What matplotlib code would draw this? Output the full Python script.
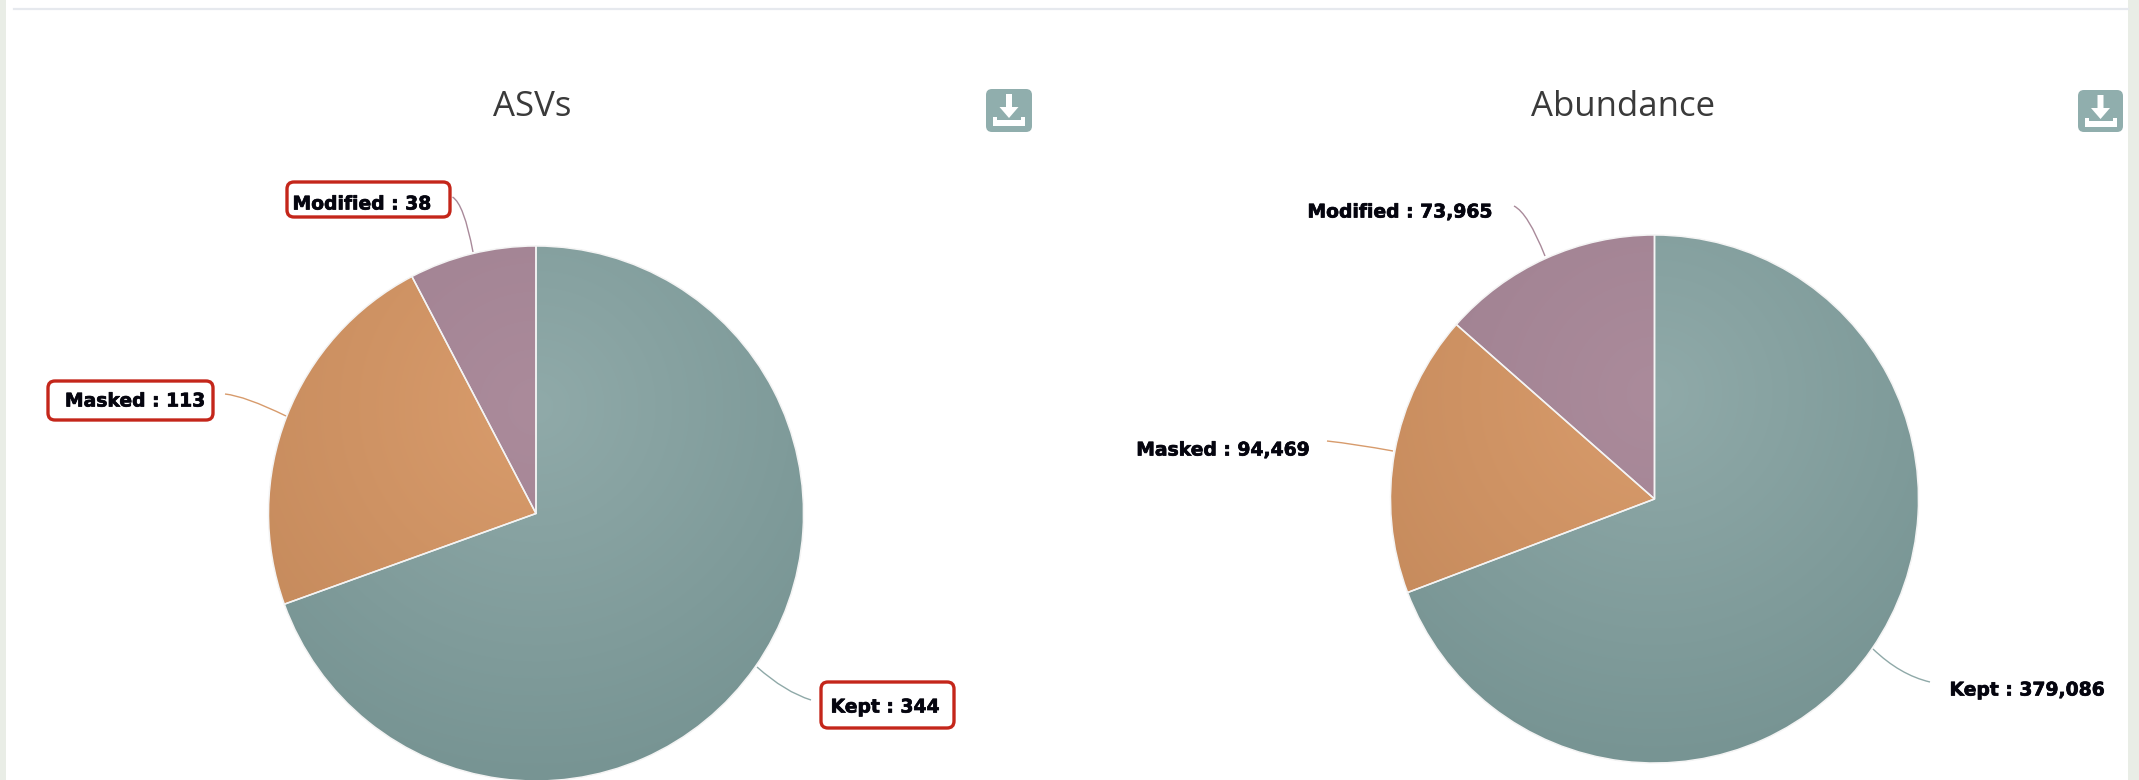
import numpy as np
import matplotlib
matplotlib.use("Agg")
import matplotlib.pyplot as plt
import matplotlib.patheffects as pe
from matplotlib.patches import FancyBboxPatch, Rectangle, Wedge, PathPatch, Polygon
from matplotlib.path import Path
from matplotlib.colors import to_rgb

W, H = 2139, 780
categories = ["Kept", "Masked", "Modified"]
asv_values = [344, 113, 38]
abundance_values = [379086, 94469, 73965]
titles = ["ASVs", "Abundance"]
light = ["#90aaa9", "#d99c6c", "#ab8b9b"]
dark = ["#779493", "#c4895b", "#9c7e8e"]
LINE = ["#8fa9a8", "#d79b6c", "#a98a9a"]
RED = "#c4261a"

fig = plt.figure(figsize=(W / 100, H / 100), dpi=100, facecolor="#e9ede6")
ax = fig.add_axes([0, 0, 1, 1])
Y = lambda y: H - y

ax.add_patch(Rectangle((5.5, 0), 2122.5, H, fc="white", ec="none", zorder=0))
ax.plot([14, 2128], [Y(8.5), Y(8.5)], color="#e6e9ee", lw=1.6, zorder=1)


def draw_pie(values, cx, cy, r):
    wedges, _ = ax.pie(values, colors=light, startangle=90, counterclock=False,
                       center=(cx, Y(cy)), radius=r, frame=True)
    n = 500
    xs = np.linspace(cx - r, cx + r, n)
    ys = np.linspace(Y(cy) + r, Y(cy) - r, n)
    xx, yy = np.meshgrid(xs, ys)
    gx, gy = cx, Y(cy) + r - 0.6 * r
    t = np.clip(np.hypot(xx - gx, yy - gy) / (1.4 * r), 0, 1)[..., None]
    for w, a, b in zip(wedges, light, dark):
        w.set_zorder(1)
        img = (1 - t) * np.array(to_rgb(a)) + t * np.array(to_rgb(b))
        im = ax.imshow(img, extent=(cx - r, cx + r, Y(cy) - r, Y(cy) + r),
                       zorder=2, aspect="auto", interpolation="bilinear")
        im.set_clip_path(w)
        ax.add_patch(Wedge(w.center, w.r, w.theta1, w.theta2, fc="none",
                           ec="#f4f4f4", lw=1.1, zorder=3))


def leader(p0, p1, p2, color):
    path = Path([(p0[0], Y(p0[1])), (p1[0], Y(p1[1])), (p2[0], Y(p2[1]))],
                [Path.MOVETO, Path.CURVE3, Path.CURVE3])
    ax.add_patch(PathPatch(path, fc="none", ec=color, lw=1.0, zorder=4))


def label(cat, val, x, y, box=None):
    t = ax.text(x, Y(y), f"{cat} : {val:,}", ha="center", va="center",
                fontsize=13.5, fontweight="bold", color="#05050f",
                family="DejaVu Sans", zorder=7)
    t.set_path_effects([pe.withStroke(linewidth=0.5, foreground="#05050f")])
    if box:
        x0, y0, x1, y1 = box
        ax.add_patch(FancyBboxPatch((x0 + 6, Y(y1) + 6), x1 - x0 - 12, y1 - y0 - 12,
                                    boxstyle="round,pad=6,rounding_size=7",
                                    fc="white", ec=RED, lw=2.4, zorder=6))


def icon(x0, y0, x1, y1):
    ax.add_patch(FancyBboxPatch((x0 + 6, Y(y1) + 6), x1 - x0 - 12, y1 - y0 - 12,
                                boxstyle="round,pad=6,rounding_size=6",
                                fc="#90aead", ec="none", zorder=5))
    mx = (x0 + x1) / 2
    pts = [(mx - 3, y0 + 5), (mx + 3, y0 + 5), (mx + 3, y0 + 18), (mx + 9.5, y0 + 18),
           (mx, y0 + 29), (mx - 9.5, y0 + 18), (mx - 3, y0 + 18)]
    ax.add_patch(Polygon([(a, Y(b)) for a, b in pts], fc="white", ec="none", zorder=6))
    tray = [(mx - 16, y0 + 28), (mx - 12, y0 + 28), (mx - 12, y0 + 31), (mx + 12, y0 + 31),
            (mx + 12, y0 + 28), (mx + 16, y0 + 28), (mx + 16, y0 + 37), (mx - 16, y0 + 37)]
    ax.add_patch(Polygon([(a, Y(b)) for a, b in tray], fc="white", ec="none", zorder=6))


draw_pie(asv_values, 536, 513.5, 267.5)
draw_pie(abundance_values, 1654.5, 499, 264)

ax.text(532, Y(107), titles[0], ha="center", va="center", fontsize=25,
        color="#3a3a3a", family="Open Sans", zorder=7)
ax.text(1623, Y(107), titles[1], ha="center", va="center", fontsize=25,
        color="#3a3a3a", family="Open Sans", zorder=7)
icon(986, 89, 1032, 132)
icon(2078, 90, 2123, 132)

leader((757, 667), (785, 692), (811, 700), LINE[0])
leader((286, 416), (245, 396), (225, 394), LINE[1])
leader((473, 252), (464, 204), (452.5, 197), LINE[2])
leader((1873, 649), (1900, 675), (1930, 682), LINE[0])
leader((1393, 451), (1355, 444), (1327, 441), LINE[1])
leader((1545, 256), (1528, 213), (1514, 206), LINE[2])

label(categories[0], asv_values[0], 885, 707, (821, 682, 954, 728))
label(categories[1], asv_values[1], 135, 401, (48, 381, 213, 420))
label(categories[2], asv_values[2], 362, 204, (287, 182, 450, 217))
label(categories[0], abundance_values[0], 2027, 690)
label(categories[1], abundance_values[1], 1223, 450)
label(categories[2], abundance_values[2], 1400, 212)

ax.set_xlim(0, W)
ax.set_ylim(0, H)
ax.set_aspect("auto")
ax.axis("off")
fig.savefig("out.png", dpi=100, facecolor=fig.get_facecolor())
